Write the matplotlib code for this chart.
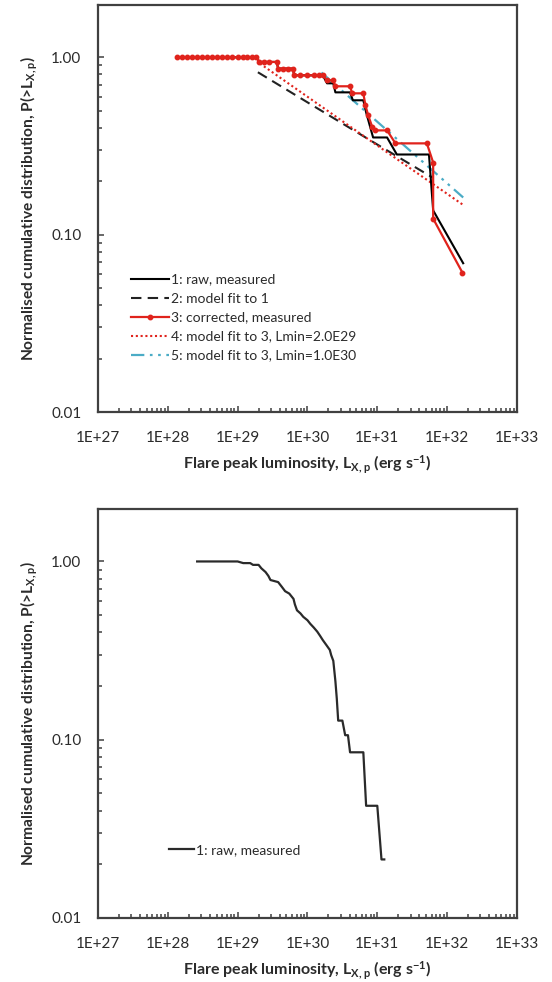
import numpy as np
import matplotlib
matplotlib.use("Agg")
import matplotlib.pyplot as plt
from matplotlib.ticker import FixedLocator, LogLocator, NullFormatter

plt.rcParams['font.family'] = ['Lato', 'DejaVu Sans']
plt.rcParams['mathtext.fontset'] = 'custom'
plt.rcParams['mathtext.rm'] = 'Lato:bold'
plt.rcParams['mathtext.bf'] = 'Lato:bold'
plt.rcParams['mathtext.default'] = 'bf'

# ---- axis ticks -------------------------------------------------------------
x_ticks_log = [27, 28, 29, 30, 31, 32, 33]
x_tick_labels = ["1E+27", "1E+28", "1E+29", "1E+30", "1E+31", "1E+32", "1E+33"]
y_ticks = [0.01, 0.1, 1.0]
y_tick_labels = ["0.01", "0.10", "1.00"]

# ---- upper panel: cumulative distributions (log10 L, P) -----------------------
raw_logL = [28.13, 29.27, 29.31, 29.56, 29.58, 29.79, 29.81, 30.22, 30.28, 30.37,
            30.40, 30.61, 30.65, 30.80, 30.84, 30.90, 30.94, 31.14, 31.28, 31.74,
            31.80, 32.23]
raw_P = [1.0, 1.0, 0.941, 0.941, 0.863, 0.863, 0.791, 0.791, 0.713, 0.713,
         0.634, 0.634, 0.572, 0.572, 0.489, 0.402, 0.353, 0.353, 0.283, 0.283,
         0.137, 0.069]

corr_logL = [28.13, 28.20, 28.27, 28.34, 28.42, 28.49, 28.56, 28.63, 28.70, 28.78,
             28.85, 28.92, 29.00, 29.07, 29.14, 29.21, 29.27, 29.31, 29.38, 29.45,
             29.56, 29.58, 29.65, 29.72, 29.79, 29.81, 29.90, 30.00, 30.10, 30.16,
             30.22, 30.28, 30.37, 30.40, 30.61, 30.64, 30.80, 30.83, 30.87, 30.93,
             30.97, 31.14, 31.26, 31.71, 31.80, 31.80, 32.22]
corr_P = [1.0, 1.0, 1.0, 1.0, 1.0, 1.0, 1.0, 1.0, 1.0, 1.0,
          1.0, 1.0, 1.0, 1.0, 1.0, 1.0, 1.0, 0.941, 0.941, 0.941,
          0.941, 0.863, 0.863, 0.863, 0.863, 0.791, 0.791, 0.791, 0.791, 0.791,
          0.791, 0.741, 0.741, 0.686, 0.686, 0.626, 0.626, 0.536, 0.470, 0.402,
          0.387, 0.387, 0.327, 0.327, 0.255, 0.123, 0.061]

fit1_logL = [29.29, 30.00, 31.00, 31.79]
fit1_P = [0.823, 0.557, 0.322, 0.210]

fit3a_logL = [29.32, 30.00, 31.00, 32.22]
fit3a_P = [0.921, 0.599, 0.318, 0.148]

fit3b_logL = [30.20, 30.85, 31.43, 32.23]
fit3b_P = [0.820, 0.488, 0.307, 0.162]

# ---- lower panel: raw cumulative distribution ------------------------------
low_logL = [28.42, 29.00, 29.08, 29.18, 29.22, 29.30, 29.34, 29.40, 29.44, 29.47,
            29.58, 29.63, 29.68, 29.74, 29.80, 29.82, 29.85, 29.90, 29.94, 30.00,
            30.04, 30.09, 30.14, 30.18, 30.22, 30.27, 30.32, 30.34, 30.37, 30.40,
            30.42, 30.44, 30.50, 30.54, 30.58, 30.61, 30.80, 30.84, 31.00, 31.06,
            31.10]
low_P = [1.000, 1.000, 0.979, 0.979, 0.957, 0.957, 0.915, 0.872, 0.830, 0.787,
         0.766, 0.723, 0.681, 0.660, 0.617, 0.574, 0.532, 0.511, 0.489, 0.468,
         0.447, 0.426, 0.404, 0.383, 0.362, 0.340, 0.319, 0.298, 0.277, 0.213,
         0.170, 0.128, 0.128, 0.106, 0.106, 0.085, 0.085, 0.0426, 0.0426, 0.0213,
         0.0213]

SPINE = "#404040"
TEXT = "#2b2b2b"
RED = "#e0231c"
CYAN = "#4bacc6"


def L(vals):
    return [10.0 ** v for v in vals]


def style_axes(ax):
    ax.set_xscale('log')
    ax.set_yscale('log')
    ax.set_xlim(1e27, 1e33)
    ax.set_ylim(0.01, 1.97)
    ax.xaxis.set_major_locator(FixedLocator([10.0 ** k for k in x_ticks_log]))
    ax.set_xticklabels(x_tick_labels)
    ax.xaxis.set_minor_locator(LogLocator(base=10, subs=np.arange(2, 10), numticks=100))
    ax.xaxis.set_minor_formatter(NullFormatter())
    ax.yaxis.set_major_locator(FixedLocator(y_ticks))
    ax.set_yticklabels(y_tick_labels)
    ax.yaxis.set_minor_locator(LogLocator(base=10, subs=np.arange(2, 10), numticks=100))
    ax.yaxis.set_minor_formatter(NullFormatter())
    ax.tick_params(which='both', direction='in', color=SPINE, width=1.1,
                   labelsize=11, labelcolor=TEXT)
    ax.tick_params(which='major', length=4.5)
    ax.tick_params(which='minor', length=3)
    ax.tick_params(axis='x', pad=14)
    ax.tick_params(axis='y', pad=12)
    for sp in ax.spines.values():
        sp.set_color(SPINE)
        sp.set_linewidth(1.6)
    ax.set_xlabel(r"Flare peak luminosity, L$_{X,p}$ (erg s$^{-1}$)",
                  fontsize=11.5, fontweight='bold', color=TEXT, labelpad=6)
    ax.set_ylabel(r"Normalised cumulative distribution, P(>L$_{X,p}$)",
                  fontsize=11.2, fontweight='bold', color=TEXT, labelpad=8)


fig = plt.figure(figsize=(5.52, 9.82), dpi=100)
ax1 = fig.add_axes([0.1775, 0.5804, 0.759, 0.4145])
ax2 = fig.add_axes([0.1775, 0.0652, 0.759, 0.4165])

# upper panel
ax1.plot(L(raw_logL), raw_P, color='black', lw=1.5, label="1: raw, measured", zorder=3)
ax1.plot(L(fit1_logL), fit1_P, color='#222222', lw=1.5, dashes=(5, 3),
         label="2: model fit to 1", zorder=2)
ax1.plot(L(corr_logL), corr_P, color=RED, lw=1.6, marker='o', ms=3.2,
         label="3: corrected, measured", zorder=4)
ax1.plot(L(fit3a_logL), fit3a_P, color=RED, lw=1.5, dashes=(1, 1.3),
         label="4: model fit to 3, Lmin=2.0E29", zorder=2)
ax1.plot(L(fit3b_logL), fit3b_P, color=CYAN, lw=1.6, dashes=(6, 2.5, 1.2, 2.5, 1.2, 2.5),
         label="5: model fit to 3, Lmin=1.0E30", zorder=2)
style_axes(ax1)
leg1 = ax1.legend(loc='upper left', bbox_to_anchor=(0.08, 0.34), frameon=False,
                  fontsize=10, handlelength=2.7, handletextpad=0.15,
                  labelspacing=0.5, borderpad=0, borderaxespad=0)
for t in leg1.get_texts():
    t.set_color(TEXT)

# lower panel
ax2.plot(L(low_logL), low_P, color='#2a2a2a', lw=1.6, label="1: raw, measured")
style_axes(ax2)
leg2 = ax2.legend(loc='upper left', bbox_to_anchor=(0.17, 0.18), frameon=False,
                  fontsize=10, handlelength=1.8, handletextpad=0.15,
                  borderpad=0, borderaxespad=0)
for t in leg2.get_texts():
    t.set_color(TEXT)

fig.savefig("out.png", dpi=100)
